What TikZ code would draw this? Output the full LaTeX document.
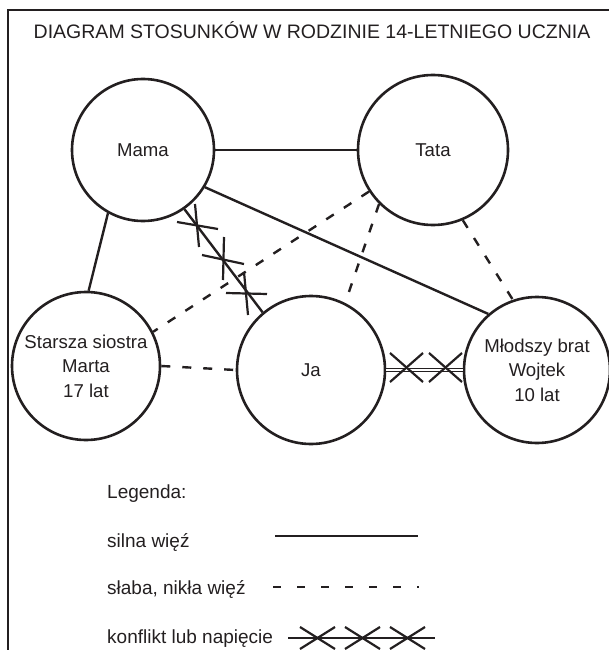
\documentclass[tikz,border=0pt]{standalone}
\usepackage{fontspec}
\setmainfont{Liberation Sans}
\definecolor{ink}{RGB}{35,31,32}
\newcommand\diagfont{\fontsize{18.6}{24.5}\selectfont}
\newcommand\legfont{\fontsize{19}{24}\selectfont}
\newcommand\headfont{\fontsize{19.5}{24}\selectfont}
\begin{document}
\begin{tikzpicture}[x=1pt,y=-1pt,
  person/.style={circle, draw=ink, line width=2.6pt, inner sep=0pt, minimum size=#1, align=center, font=\diagfont, text=ink},
  lbl/.style={inner sep=0pt, font=\legfont, text=ink},
  strong/.style={draw=ink, line width=2.4pt},
  weak/.style={draw=ink, line width=2.4pt, dash pattern=on 9pt off 12pt},
  tick/.style={draw=ink, line width=2.2pt},
  railed/.style={draw=ink, line width=1.8pt, double=white, double distance=1.1pt}]
\useasboundingbox (0,0) rectangle (609,650);
% frame
\draw[ink, line width=1.5pt] (8,660) -- (8,10) -- (620,10);
% title
\node[lbl, font=\headfont, anchor=base] (title) at (312,39) {DIAGRAM STOSUNKÓW W RODZINIE 14-LETNIEGO UCZNIA};
% persons
\node[person=142pt] (mama) at (143,150) {Mama};
\node[person=150pt] (tata) at (433,150) {Tata};
\node[person=148pt] (sis) at (86,366) {Starsza siostra\\Marta\\17 lat};
\node[person=148pt] (ja) at (311,370) {Ja};
\node[person=146pt] (brat) at (537,370) {Młodszy brat\\Wojtek\\10 lat};
% strong ties
\draw[strong] (mama) -- (tata);
\draw[strong] (mama.-119) -- (sis.88);
\draw[strong] (mama.-31) -- (brat.131);
% weak ties
\draw[weak] (tata.-147) -- (sis.27);
\draw[weak] (tata.-135) -- (ja.63);
\draw[weak] (tata.-67) -- (brat.109);
\draw[weak] (sis.east) -- (ja.west);
% conflict Mama - Ja
\draw[strong] (mama.-55) -- (ja.130);
\draw[tick] (195,204) -- (199,247);
\draw[tick] (177,222) -- (218,229);
\draw[tick] (224,237) -- (223,280);
\draw[tick] (202,255) -- (244,264);
\draw[tick] (244,272) -- (248,315);
\draw[tick] (226,293) -- (267,294);
% conflict Ja - brat
\draw[railed] (ja) -- (brat);
\draw[tick] (390,353) -- (423,382);
\draw[tick] (390,382) -- (423,353);
\draw[tick] (429,353) -- (462,382);
\draw[tick] (429,382) -- (462,353);
% legend
\node[lbl, anchor=base west] (leg) at (107,498) {Legenda:};
\node[lbl, anchor=base west] (l1) at (107,547) {silna więź};
\node[lbl, anchor=base west] (l2) at (107,594) {słaba, nikła więź};
\node[lbl, anchor=base west] (l3) at (107,643) {konflikt lub napięcie};
\coordinate (s1) at (275,536);
\coordinate (s2) at (418,536);
\draw[strong] (s1) -- (s2);
\coordinate (w1) at (273,587);
\coordinate (w2) at (418.5,587);
\draw[draw=ink, line width=2.4pt, dash pattern=on 8pt off 16pt] (w1) -- (w2);
\coordinate (c1) at (288,638);
\coordinate (c2) at (435,638);
\draw[strong] (c1) -- (c2);
\foreach \cx in {317.5,362.5,407.5}{
  \draw[tick] (\cx-17.5,627) -- (\cx+17.5,649);
  \draw[tick] (\cx-17.5,649) -- (\cx+17.5,627);
}
\end{tikzpicture}
\end{document}
